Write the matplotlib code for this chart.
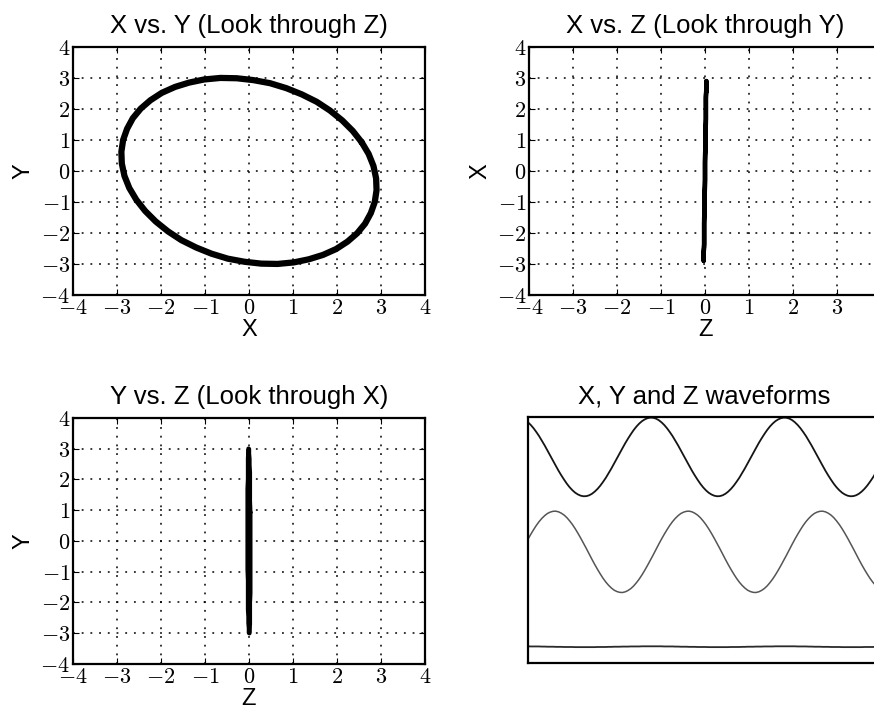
import numpy as np
import matplotlib
matplotlib.use("Agg")
import matplotlib.pyplot as plt

plt.rcParams['font.family'] = ['Liberation Sans', 'DejaVu Sans']
plt.rcParams['mathtext.fontset'] = 'cm'

# one cycle of the trajectory, 48 samples
x_cycle = [2.56, 2.36, 2.12, 1.84, 1.54, 1.20, 0.85, 0.48, 0.10, -0.28, -0.65, -1.02,
           -1.36, -1.68, -1.98, -2.24, -2.46, -2.64, -2.77, -2.86, -2.90, -2.89, -2.83, -2.72,
           -2.56, -2.36, -2.12, -1.84, -1.54, -1.20, -0.85, -0.48, -0.10, 0.28, 0.65, 1.02,
           1.36, 1.68, 1.98, 2.24, 2.46, 2.64, 2.77, 2.86, 2.90, 2.89, 2.83, 2.72]
y_cycle = [0.93, 1.29, 1.63, 1.95, 2.23, 2.47, 2.67, 2.83, 2.93, 2.99, 3.00, 2.95,
           2.85, 2.71, 2.52, 2.28, 2.01, 1.70, 1.36, 1.00, 0.62, 0.24, -0.16, -0.55,
           -0.93, -1.29, -1.63, -1.95, -2.23, -2.47, -2.67, -2.83, -2.93, -2.99, -3.00, -2.95,
           -2.85, -2.71, -2.52, -2.28, -2.01, -1.70, -1.36, -1.00, -0.62, -0.24, 0.16, 0.55]
z_cycle = [0.03, 0.02, 0.02, 0.02, 0.02, 0.01, 0.01, 0.00, 0.00, 0.00, -0.01, -0.01,
           -0.01, -0.02, -0.02, -0.02, -0.02, -0.03, -0.03, -0.03, -0.03, -0.03, -0.03, -0.03,
           -0.03, -0.02, -0.02, -0.02, -0.02, -0.01, -0.01, 0.00, 0.00, 0.00, 0.01, 0.01,
           0.01, 0.02, 0.02, 0.02, 0.02, 0.03, 0.03, 0.03, 0.03, 0.03, 0.03, 0.03]
n_samples = 129
wave_offsets = [7, 0, -7]
ticks = [-4, -3, -2, -1, 0, 1, 2, 3, 4]

# the recorded signal keeps repeating the same cycle
x_wave = (x_cycle * 3)[:n_samples]
y_wave = (y_cycle * 3)[:n_samples]
z_wave = (z_cycle * 3)[:n_samples]

# closed loops for the projections
x_loop = x_cycle + x_cycle[:1]
y_loop = y_cycle + y_cycle[:1]
z_loop = z_cycle + z_cycle[:1]

fig = plt.figure(figsize=(8.74, 7.09), dpi=100)

def proj_axes(rect, xs, ys, lw, title, xlabel, ylabel):
    ax = fig.add_axes(rect)
    ax.plot(xs, ys, color='black', lw=lw, solid_capstyle='round', solid_joinstyle='round')
    ax.set_xlim(-4, 4)
    ax.set_ylim(-4, 4)
    ax.set_xticks(ticks)
    ax.set_yticks(ticks)
    ax.set_xticklabels([f'${v}$' for v in ticks], fontsize=16)
    ax.set_yticklabels([f'${v}$' for v in ticks], fontsize=16)
    ax.grid(True, color='black', linestyle=(0, (1.2, 4.5)), linewidth=1.1)
    ax.tick_params(direction='in', top=True, right=True, length=4, pad=2)
    for s in ax.spines.values():
        s.set_linewidth(1.6)
    ax.set_title(title, fontsize=18.5, pad=10)
    ax.set_xlabel(xlabel, fontsize=17, labelpad=0)
    ax.set_ylabel(ylabel, fontsize=17, labelpad=4)
    return ax

proj_axes([0.0835, 0.584, 0.4027, 0.3498], x_loop, y_loop, 4.5,
          'X vs. Y (Look through Z)', 'X', 'Y')
proj_axes([0.6053, 0.584, 0.4027, 0.3498], z_loop, x_loop, 3.2,
          'X vs. Z (Look through Y)', 'Z', 'X')
proj_axes([0.0835, 0.0635, 0.4027, 0.347], z_loop, y_loop, 3.2,
          'Y vs. Z (Look through X)', 'Z', 'Y')

# stacked waveforms
ax = fig.add_axes([0.6041, 0.0649, 0.4027, 0.347])
t = np.arange(n_samples)
colors = ['#151515', '#555555', '#2a2a2a']
widths = [1.3, 1.1, 1.3]
for series, off, c, w in zip([x_wave, y_wave, z_wave], wave_offsets, colors, widths):
    ax.plot(t, np.array(series) + off, color=c, lw=w)
ax.set_xlim(0, 126.6)
ax.set_ylim(-8.2, 9.95)
ax.set_xticks([])
ax.set_yticks([])
for s in ax.spines.values():
    s.set_linewidth(1.6)
ax.set_title('X, Y and Z waveforms', fontsize=18.5, pad=10)

fig.savefig('out.png', dpi=100)
